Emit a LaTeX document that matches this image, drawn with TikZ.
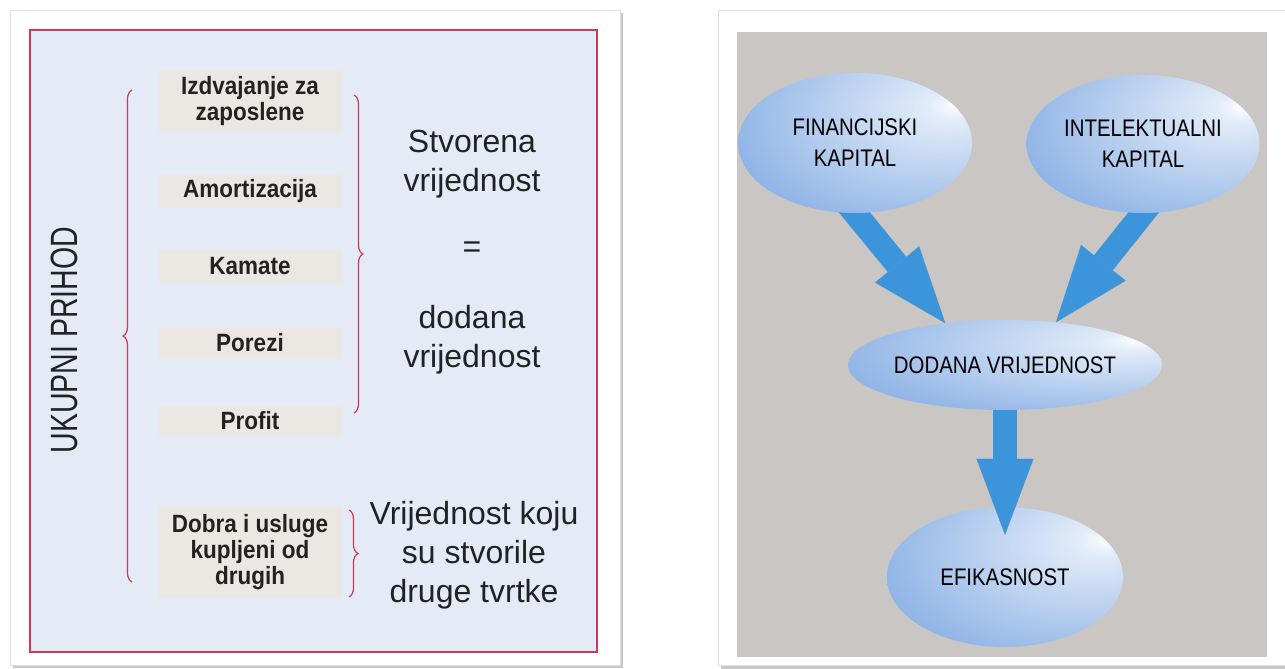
\documentclass[tikz,border=0pt]{standalone}
\usepackage{fontspec}
\setmainfont{Liberation Sans}
\newfontfamily\itemfamily[FakeStretch=0.9]{Liberation Sans}
\newfontfamily\capfamily[FakeStretch=0.85]{Liberation Sans}
\newfontfamily\ukpfamily[FakeStretch=0.75]{Liberation Sans}
\usetikzlibrary{shapes.geometric, arrows.meta, decorations.pathreplacing, calc}

\definecolor{panelblue}{HTML}{E4EAF6}
\definecolor{panelgray}{HTML}{C9C6C3}
\definecolor{boxgray}{HTML}{EBE8E3}
\definecolor{bracered}{HTML}{CD3A55}
\definecolor{arrowblue}{HTML}{3C94DB}
\definecolor{ellblue}{HTML}{7AA6E2}
\definecolor{ellmid}{HTML}{AFC9ED}
\definecolor{ellhi}{HTML}{E2ECF9}
\definecolor{textdark}{HTML}{222222}

\pgfdeclareradialshading{glossy}{\pgfpoint{22bp}{14bp}}{color(0bp)=(white); color(5bp)=(ellhi); color(26bp)=(ellmid); color(47bp)=(ellblue); color(80bp)=(ellblue)}

\pgfdeclarelayer{panel}
\pgfdeclarelayer{arrows}
\pgfsetlayers{panel,arrows,main}

\begin{document}
\begin{tikzpicture}[x=1pt, y=-1pt,
    itembox/.style={fill=boxgray, minimum width=184pt, inner sep=0pt, align=center, text=textdark,
      font=\itemfamily\bfseries\fontsize{25}{26}\selectfont},
    sidetext/.style={align=center, text=textdark, font=\fontsize{32}{39}\selectfont},
    capnode/.style={ellipse, shading=glossy, inner sep=0pt, align=center, text=black,
      font=\capfamily\fontsize{24}{31}\selectfont},
    bigarrow/.style={draw=arrowblue, line width=24pt, -{Triangle[length=76pt, width=57pt, line width=0.1pt]}},
    redbrace/.style={draw=bracered, line width=1.2pt, decorate, decoration={brace, amplitude=9pt}}]
			\useasboundingbox (0,0) rectangle (1285,669);

			% Panels
			\begin{pgfonlayer}{panel}
				\fill[black!22] (13,13) rectangle (623,668);
				\filldraw[fill=white, draw=black!12] (10,10) rectangle (620,665);
				\filldraw[fill=panelblue, draw=bracered, line width=2pt] (30,30) rectangle (597,652);
				\fill[black!22] (721,13) rectangle (1290,672);
				\filldraw[fill=white, draw=black!12] (718,10) rectangle (1290,665);
				\fill[panelgray] (737,32) rectangle (1267,657);
				\node[capnode, minimum width=236pt, minimum height=140pt] (eff) at (1005,577) {EFIKASNOST};
			\end{pgfonlayer}

			% Left panel
			\node[rotate=90, text=textdark, font=\ukpfamily\fontsize{38}{38}\selectfont] (ukp) at (64,340) {UKUPNI PRIHOD};
			\node[itembox, minimum height=62pt] (izd) at (250,101) {Izdvajanje za\\zaposlene};
			\node[itembox, minimum height=34pt] (amo) at (250,191) {Amortizacija};
			\node[itembox, minimum height=33pt] (kam) at (250,266) {Kamate};
			\node[itembox, minimum height=31pt] (por) at (250,343) {Porezi};
			\node[itembox, minimum height=30pt] (pro) at (250,421) {Profit};
			\node[itembox, minimum height=91pt] (dob) at (250,552) {Dobra i usluge\\kupljeni od\\drugih};

			\node[sidetext] (stv) at (472,164) {Stvorena\\vrijednost};
			\node[sidetext] (eq) at (472,250) {=};
			\node[sidetext] (dvr) at (472,340) {dodana\\vrijednost};
			\node[sidetext] (vkj) at (474,555) {Vrijednost koju\\su stvorile\\druge tvrtke};

			% Braces
			\coordinate (lbtop) at (132,90);
			\coordinate (lbbot) at (132,582);
			\coordinate (rbtop) at (354,95);
			\coordinate (rbbot) at (354,413);
			\coordinate (dbtop) at (349,510);
			\coordinate (dbbot) at (349,597);
			\draw[redbrace] (lbbot) -- (lbtop);
			\draw[redbrace] (rbtop) -- (rbbot);
			\draw[redbrace] (dbtop) -- (dbbot);

			% Right panel
			\node[capnode, minimum width=234pt, minimum height=140pt] (fin) at (855,143) {FINANCIJSKI\\KAPITAL};
			\node[capnode, minimum width=233pt, minimum height=138pt] (int) at (1143,144) {INTELEKTUALNI\\KAPITAL};
			\node[capnode, minimum width=280pt, minimum height=90pt] (dod) at (1005,365) {DODANA VRIJEDNOST};

			% Arrows
			\begin{pgfonlayer}{arrows}
				\draw[bigarrow, shorten <=-25pt] (fin.south) -- (dod.145);
				\draw[bigarrow, shorten <=-25pt] (int.south) -- (dod.40);
				\draw[bigarrow, shorten <=-10pt, shorten >=-28pt] (dod.south) -- (eff.north);
			\end{pgfonlayer}
		\end{tikzpicture}
\end{document}
